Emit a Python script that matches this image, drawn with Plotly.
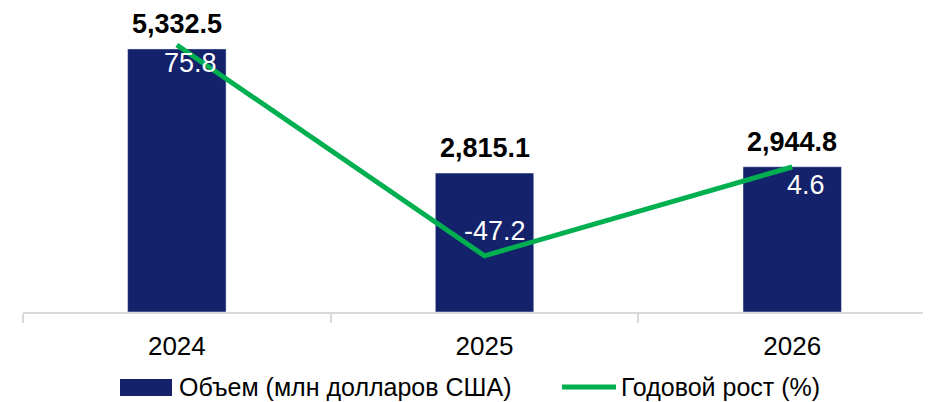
import plotly.graph_objects as go

years = ["2024", "2025", "2026"]
volume = [5332.5, 2815.1, 2944.8]
growth = [75.8, -47.2, 4.6]
volume_name = "Объем (млн долларов США)"
growth_name = "Годовой рост (%)"

BAR_COLOR = "#14226c"
LINE_COLOR = "#00b050"
FONT = "Liberation Sans"

# figure geometry (page has an 8px body margin)
W, H = 923, 394
ML, MR, MT, MB = 15, 0, 8, 90
PW, PH = W - ML - MR, H - MT - MB


def px_x(px):
    return (px - ML) / PW


def px_y(py):
    return (H - MB - py) / PH


fig = go.Figure()
fig.add_trace(go.Bar(
    x=years, y=volume, name=volume_name, marker_color=BAR_COLOR,
    width=0.32, yaxis="y", showlegend=False,
))
fig.add_trace(go.Scatter(
    x=years, y=growth, name=growth_name, mode="lines",
    line=dict(color=LINE_COLOR, width=5), yaxis="y2", showlegend=False,
))

annotations = []
for i, v in enumerate(volume):
    annotations.append(dict(
        x=i, y=v, xref="x", yref="y", text=f"<b>{v:,.1f}</b>",
        showarrow=False, yshift=25, yanchor="middle",
        font=dict(family=FONT, size=27, color="black"),
    ))
for i, g in enumerate(growth):
    local_min = 0 < i < len(growth) - 1 and g < growth[i - 1] and g < growth[i + 1]
    annotations.append(dict(
        x=i, y=g, xref="x", yref="y2", text=f"{g:.1f}",
        showarrow=False, yanchor="middle",
        xshift=10 if local_min else 14,
        yshift=25 if local_min else -18,
        font=dict(family=FONT, size=27, color="white"),
    ))

# custom legend
shapes = [
    dict(type="rect", xref="paper", yref="paper",
         x0=px_x(112), x1=px_x(164), y0=px_y(388), y1=px_y(371),
         fillcolor=BAR_COLOR, line=dict(width=0)),
    dict(type="line", xref="paper", yref="paper",
         x0=px_x(554), x1=px_x(608), y0=px_y(379), y1=px_y(379),
         line=dict(color=LINE_COLOR, width=5)),
]
annotations += [
    dict(xref="paper", yref="paper", x=px_x(169), y=px_y(379), text=volume_name,
         showarrow=False, xanchor="left", yanchor="middle",
         font=dict(family=FONT, size=25, color="black")),
    dict(xref="paper", yref="paper", x=px_x(611), y=px_y(379), text=growth_name,
         showarrow=False, xanchor="left", yanchor="middle",
         font=dict(family=FONT, size=25, color="black")),
]

fig.update_layout(
    width=W, height=H,
    margin=dict(l=ML, r=MR, t=MT, b=MB),
    paper_bgcolor="white", plot_bgcolor="white",
    font=dict(family=FONT, size=22, color="black"),
    showlegend=False,
    xaxis=dict(type="category", range=[-0.5, 2.451], showline=True, linecolor="#d9d9d9",
               linewidth=1.5, ticks="outside", tickson="boundaries", ticklen=9,
               tickcolor="#d9d9d9", tickwidth=1.5, showgrid=False,
               ticklabelstandoff=10,
               tickfont=dict(family=FONT, size=26)),
    yaxis=dict(range=[0, 6000], visible=False, showgrid=False),
    yaxis2=dict(range=[-80, 92.7], overlaying="y", visible=False, showgrid=False),
    annotations=annotations,
    shapes=shapes,
)

fig.write_html("out.html")
